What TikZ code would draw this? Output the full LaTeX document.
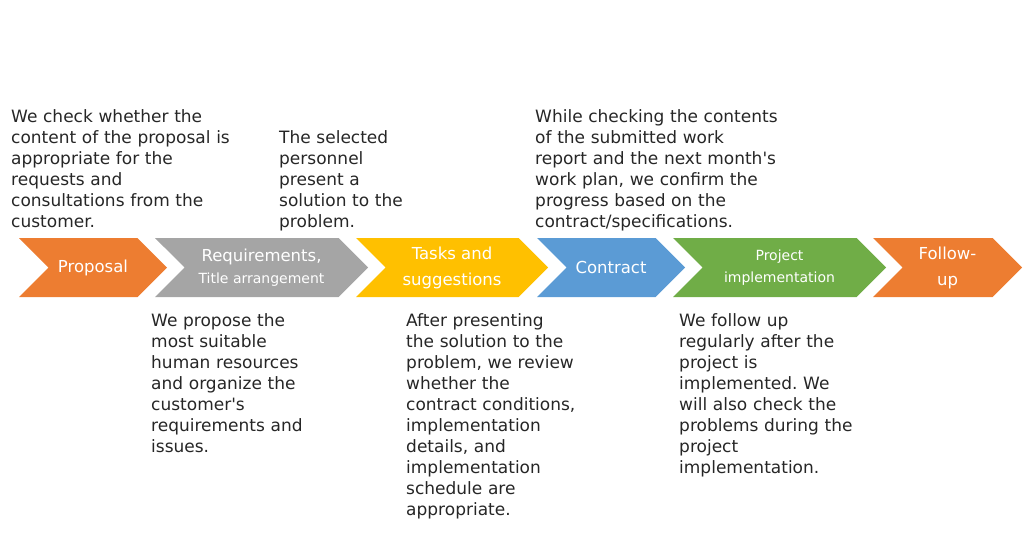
\documentclass[tikz,border=0pt]{standalone}
\usepackage{fontspec}
\setmainfont{DejaVu Sans}
\usetikzlibrary{shapes.symbols}
\definecolor{orgA}{HTML}{ED7D31}
\definecolor{grayA}{HTML}{A5A5A5}
\definecolor{yelA}{HTML}{FFC000}
\definecolor{bluA}{HTML}{5B9BD5}
\definecolor{grnA}{HTML}{70AD47}
\definecolor{txtA}{HTML}{262626}
\frenchspacing
\begin{document}
\begin{tikzpicture}[x=1pt, y=-1pt,
    chev/.style={signal, signal from=west, signal to=east, minimum height=59pt,
      inner sep=0pt, outer sep=0pt, text=white, align=center,
      font=\fontsize{16.5}{26}\selectfont},
    note/.style={anchor=base west, text width=260pt, align=left, inner sep=0pt,
      text=txtA, font=\fontsize{17}{21}\selectfont}]
    \useasboundingbox (0,0) rectangle (1024,535);
    % the steps
    \foreach \nm/\cx/\w/\col/\txt in {
        prop/93/148/orgA/{\raisebox{-1.5pt}{Proposal}},
        req/261.5/213/grayA/{Requirements,\\[-4pt]{\fontsize{14}{22}\selectfont Title arrangement}},
        task/452/192/yelA/{Tasks and\\suggestions},
        cont/611/148/bluA/{\raisebox{-1.5pt}{Contract}},
        impl/779.5/213/grnA/{\fontsize{14}{22}\selectfont Project\\[-4pt]\fontsize{14}{22}\selectfont implementation},
        foll/947.5/149/orgA/{Follow-\\up}}
      \node[chev, fill=\col, minimum width=\w pt] (\nm) at (\cx,267.5) {\txt};
    % texts above
    \node[note] (prop-note) at (11,122) {We check whether the\\content of the proposal is\\appropriate for the\\requests and\\consultations from the\\customer.};
    \node[note] (task-note) at (279,143) {The selected\\personnel\\present a\\solution to the\\problem.};
    \node[note] (impl-note) at (535,122) {While checking the contents\\of the submitted work\\report and the next month\textquotesingle s\\work plan, we confirm the\\progress based on the\\contract/specifications.};
    % texts below
    \node[note] (req-note) at (151,326) {We propose the\\most suitable\\human resources\\and organize the\\customer\textquotesingle s\\requirements and\\issues.};
    \node[note] (cont-note) at (406,326) {After presenting\\the solution to the\\problem, we review\\whether the\\contract conditions,\\implementation\\details, and\\implementation\\schedule are\\appropriate.};
    \node[note] (foll-note) at (679,326) {We follow up\\regularly after the\\project is\\implemented. We\\will also check the\\problems during the\\project\\implementation.};
  \end{tikzpicture}
\end{document}
